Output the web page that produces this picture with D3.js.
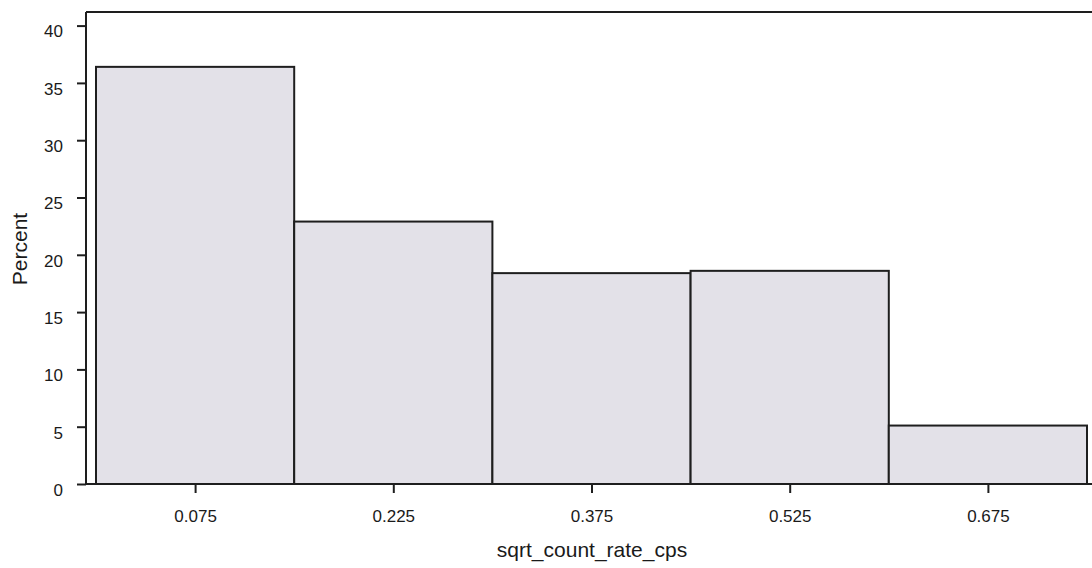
<!DOCTYPE html>
<html>
<head>
<meta charset="utf-8">
<script src="https://cdn.jsdelivr.net/npm/d3@7"></script>
<style>
  html, body { margin: 0; padding: 0; background: #ffffff; }
  svg { display: block; }
  text { font-family: "Liberation Sans", Arial, Helvetica, sans-serif; fill: #1a1a1a; }
</style>
</head>
<body>
<svg id="chart" width="1092" height="568"></svg>
<script>
// Histogram of sqrt_count_rate_cps: bin midpoints and percent of observations
const binMids = [0.075, 0.225, 0.375, 0.525, 0.675];
const binWidth = 0.15;
const percents = [36.4, 22.9, 18.4, 18.6, 5.1];
const yTicks = [0, 5, 10, 15, 20, 25, 30, 35, 40];
const xTicks = [0.075, 0.225, 0.375, 0.525, 0.675];
const xTitle = "sqrt_count_rate_cps";
const yTitle = "Percent";

const svg = d3.select("#chart");

const axisX = 86, frameTop = 12, baseY = 484;

const x = d3.scaleLinear().domain([0, 0.75]).range([96, 1087]);
const y = d3.scaleLinear().domain([0, 40]).range([baseY, 25.6]);

// bars
svg.append("g")
  .selectAll("rect")
  .data(binMids.map((m, i) => ({ m, p: percents[i] })))
  .join("rect")
  .attr("x", d => x(d.m - binWidth / 2))
  .attr("width", d => x(d.m + binWidth / 2) - x(d.m - binWidth / 2))
  .attr("y", d => y(d.p))
  .attr("height", d => y(0) - y(d.p))
  .attr("fill", "#e3e1e8")
  .attr("stroke", "#1e1e1e")
  .attr("stroke-width", 2);

// frame: left axis line, top line, bottom axis line
const frame = svg.append("g").attr("stroke", "#1e1e1e").attr("stroke-width", 2).attr("fill", "none");
frame.append("line").attr("x1", axisX).attr("x2", axisX).attr("y1", frameTop).attr("y2", baseY);
frame.append("line").attr("x1", axisX).attr("x2", 1092).attr("y1", frameTop).attr("y2", frameTop);
frame.append("line").attr("x1", axisX).attr("x2", 1092).attr("y1", baseY).attr("y2", baseY);

// y axis
const gy = svg.append("g")
  .attr("transform", `translate(${axisX},0)`)
  .call(d3.axisLeft(y).tickValues(yTicks).tickSize(9).tickPadding(14).tickFormat(d3.format("d")));
gy.select(".domain").remove();
gy.selectAll(".tick line").attr("stroke", "#1e1e1e").attr("stroke-width", 2);
gy.selectAll(".tick text")
  .attr("dy", "0.67em")
  .style("font-size", "17px")
  .attr("fill", "#1a1a1a");

// x axis
const gx = svg.append("g")
  .attr("transform", `translate(0,${baseY})`)
  .call(d3.axisBottom(x).tickValues(xTicks).tickSize(9).tickPadding(17).tickFormat(d3.format(".3f")));
gx.select(".domain").remove();
gx.selectAll(".tick line").attr("stroke", "#1e1e1e").attr("stroke-width", 2);
gx.selectAll(".tick text")
  .style("font-size", "17px")
  .attr("fill", "#1a1a1a");

// axis titles
svg.append("text")
  .attr("x", 592)
  .attr("y", 557)
  .attr("text-anchor", "middle")
  .style("font-size", "21px")
  .text(xTitle);

svg.append("text")
  .attr("transform", "translate(27,249) rotate(-90)")
  .attr("text-anchor", "middle")
  .style("font-size", "21px")
  .text(yTitle);
</script>
</body>
</html>
